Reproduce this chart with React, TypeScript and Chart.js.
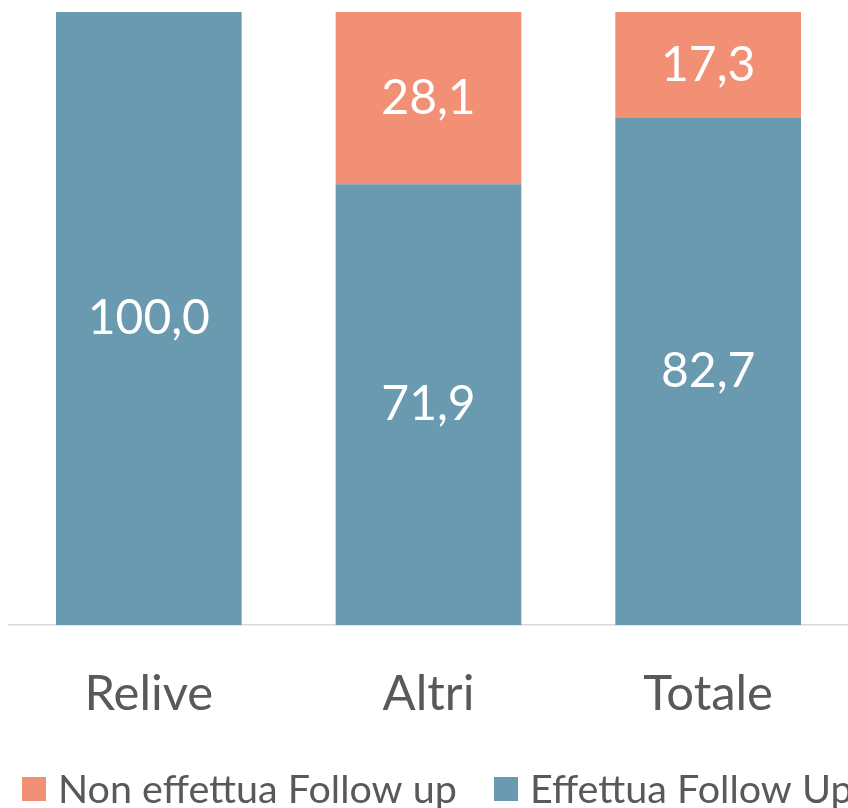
import React, { useEffect, useRef } from "react";
import { Chart, registerables } from "chart.js";

Chart.register(...registerables);

const categories = ["Relive", "Altri", "Totale"];
const effettua = [100.0, 71.9, 82.7];
const nonEffettua = [0, 28.1, 17.3];
const seriesNames = ["Non effettua Follow up", "Effettua Follow Up"];

const TEAL = "#6A9AAF";
const SALMON = "#F29076";
const FONT = "Lato, 'Open Sans', sans-serif";

export default function App() {
  const ref = useRef<HTMLCanvasElement | null>(null);
  useEffect(() => {
    document.body.style.margin = "0";
    const labelPlugin = {
      id: "valueLabels",
      afterDatasetsDraw(chart: any) {
        const ctx = chart.ctx;
        ctx.save();
        ctx.fillStyle = "#FFFFFF";
        ctx.font = `48px ${FONT}`;
        ctx.textAlign = "center";
        ctx.textBaseline = "middle";
        chart.data.datasets.forEach((ds: any, di: number) => {
          const meta = chart.getDatasetMeta(di);
          meta.data.forEach((bar: any, i: number) => {
            const v = ds.data[i];
            if (!v) return;
            const y = (bar.y + bar.base) / 2;
            ctx.fillText(v.toFixed(1).replace(".", ","), bar.x, y);
          });
        });
        ctx.restore();
      },
    };
    const legendPlugin = {
      id: "customLegend",
      afterDraw(chart: any) {
        const ctx = chart.ctx;
        ctx.save();
        ctx.font = `39.5px ${FONT}`;
        ctx.textBaseline = "middle";
        ctx.textAlign = "left";
        const y = 789;
        const items = [
          { x: 22, color: SALMON, text: seriesNames[0] },
          { x: 494, color: TEAL, text: seriesNames[1] },
        ];
        items.forEach((it) => {
          ctx.fillStyle = it.color;
          ctx.fillRect(it.x, y - 12, 24, 24);
          ctx.fillStyle = "#595959";
          ctx.fillText(it.text, it.x + 36, y + 1);
        });
        ctx.restore();
      },
    };
    const chart = new Chart(ref.current as HTMLCanvasElement, {
      type: "bar",
      data: {
        labels: categories,
        datasets: [
          {
            label: seriesNames[1],
            data: effettua,
            backgroundColor: TEAL,
            barPercentage: 0.664,
            categoryPercentage: 1,
          },
          {
            label: seriesNames[0],
            data: nonEffettua,
            backgroundColor: SALMON,
            barPercentage: 0.664,
            categoryPercentage: 1,
          },
        ],
      },
      options: {
        animation: false,
        responsive: false,
        maintainAspectRatio: false,
        layout: { padding: { top: 12, left: 9, right: 0, bottom: 52 } },
        plugins: { legend: { display: false }, tooltip: { enabled: false } },
        scales: {
          x: {
            stacked: true,
            grid: { display: false },
            border: { display: true, color: "#D9D9D9", width: 1.5 },
            ticks: {
              color: "#595959",
              font: { family: FONT, size: 49 },
              padding: 32,
            },
          },
          y: {
            stacked: true,
            display: false,
            min: 0,
            max: 100,
          },
        },
      },
      plugins: [labelPlugin, legendPlugin],
    });
    return () => chart.destroy();
  }, []);
  return (
    <div style={{ width: 848, height: 808 }}>
      <canvas ref={ref} width={848} height={808} style={{ display: "block" }} />
    </div>
  );
}
